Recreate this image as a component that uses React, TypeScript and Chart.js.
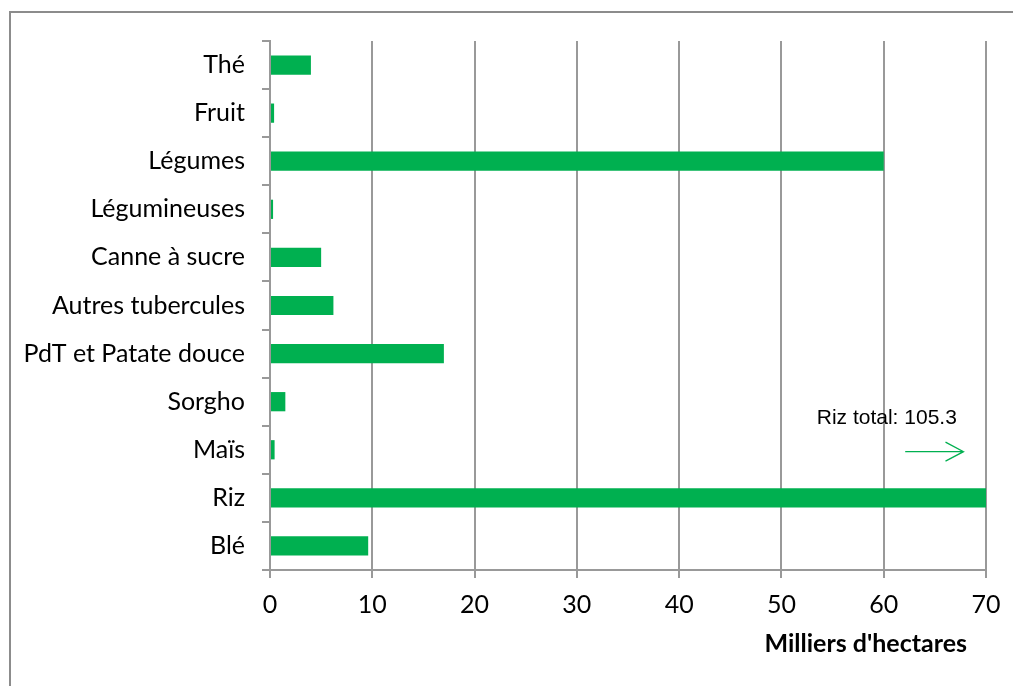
import React, { useEffect, useRef } from "react";
import { Chart, registerables } from "chart.js";

Chart.register(...registerables);

const categories = [
  "Thé",
  "Fruit",
  "Légumes",
  "Légumineuses",
  "Canne à sucre",
  "Autres tubercules",
  "PdT et Patate douce",
  "Sorgho",
  "Maïs",
  "Riz",
  "Blé",
];
const areaValues = [4.0, 0.4, 60.0, 0.3, 5.0, 6.2, 17.0, 1.5, 0.45, 105.3, 9.6];
const xMin = 0;
const xMax = 70;
const xStep = 10;
const axisTitle = "Milliers d'hectares";
const rizNote = "Riz total: 105.3";
// annotation anchor (data units): note text and arrow along Riz overflow
const noteX = 60.3;
const noteY = 7.34;
const arrowFromX = 62.1;
const arrowToX = 67.8;
const arrowY = 8.04;

const GREEN = "#00b050";
const GRID = "#999999";
const FONT = "Lato";

const overlayPlugin = {
  id: "overlay",
  afterDraw(chart: any) {
    const { ctx, chartArea, scales } = chart;
    const xs = scales.x;
    const ys = scales.y;
    ctx.save();
    // axis title
    ctx.fillStyle = "#000";
    ctx.font = `bold 25px ${FONT}`;
    ctx.textAlign = "right";
    ctx.textBaseline = "middle";
    ctx.fillText(axisTitle, chartArea.right - 19, chartArea.bottom + 74);
    // Riz note
    ctx.font = "21px 'Liberation Sans'";
    ctx.textAlign = "center";
    ctx.fillText(rizNote, xs.getPixelForValue(noteX), ys.getPixelForValue(noteY));
    // arrow
    const x0 = xs.getPixelForValue(arrowFromX);
    const x1 = xs.getPixelForValue(arrowToX);
    const y = ys.getPixelForValue(arrowY);
    ctx.strokeStyle = GREEN;
    ctx.lineWidth = 1.3;
    ctx.beginPath();
    ctx.moveTo(x0, y);
    ctx.lineTo(x1, y);
    ctx.moveTo(x1 - 18, y - 9.5);
    ctx.lineTo(x1, y);
    ctx.lineTo(x1 - 18, y + 9.5);
    ctx.stroke();
    ctx.restore();
  },
};

export default function App() {
  const ref = useRef<HTMLCanvasElement | null>(null);
  useEffect(() => {
    if (!ref.current) return;
    const chart = new Chart(ref.current, {
      type: "bar",
      data: {
        labels: categories,
        datasets: [
          {
            data: areaValues,
            backgroundColor: GREEN,
            borderWidth: 0,
            barPercentage: 0.4,
            categoryPercentage: 1,
          },
        ],
      },
      options: {
        indexAxis: "y",
        responsive: false,
        animation: false,
        devicePixelRatio: 1,
        layout: { padding: { top: 41, right: 27, left: 0, bottom: 0 } },
        plugins: {
          legend: { display: false },
          tooltip: { enabled: false },
          title: { display: false },
        },
        scales: {
          x: {
            type: "linear",
            min: xMin,
            max: xMax,
            ticks: {
              stepSize: xStep,
              color: "#000",
              font: { family: FONT, size: 25 },
              padding: 12,
            },
            grid: { color: GRID, lineWidth: 2, tickLength: 8, drawTicks: true },
            border: { color: GRID, width: 2 },
            afterFit: (s: any) => {
              s.height = 116;
            },
          },
          y: {
            type: "category",
            offset: true,
            ticks: {
              color: "#000",
              font: { family: FONT, size: 25 },
              padding: 17,
              autoSkip: false,
            },
            grid: {
              drawOnChartArea: false,
              drawTicks: true,
              tickLength: 8,
              color: GRID,
              lineWidth: 2,
              offset: true,
            },
            border: { color: GRID, width: 2 },
            afterFit: (s: any) => {
              s.width = 270;
            },
          },
        },
      },
      plugins: [overlayPlugin],
    } as any);
    return () => chart.destroy();
  }, []);

  return (
    <div
      style={{
        position: "fixed",
        left: 0,
        top: 0,
        width: 1013,
        height: 686,
        background: "#fff",
        overflow: "hidden",
      }}
    >
      <div
        style={{
          position: "absolute",
          left: 9,
          top: 11,
          width: 1100,
          height: 800,
          borderLeft: "2px solid #8c8c8c",
          borderTop: "2px solid #8c8c8c",
        }}
      />
      <canvas
        ref={ref}
        width={1013}
        height={686}
        style={{ position: "absolute", left: 0, top: 0 }}
      />
    </div>
  );
}
